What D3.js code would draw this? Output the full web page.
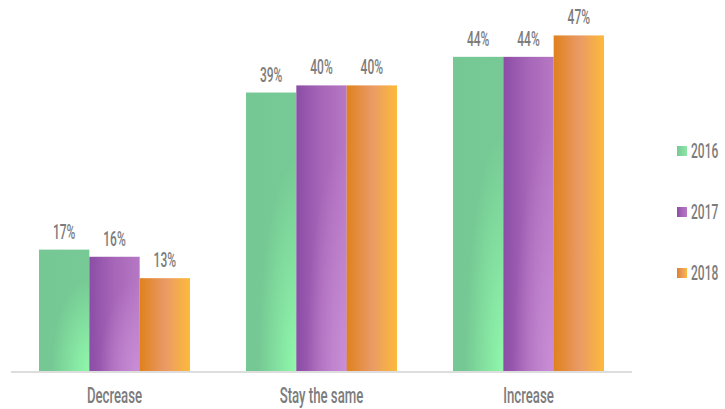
<!DOCTYPE html>
<html><head><meta charset="utf-8">
<script src="https://cdn.jsdelivr.net/npm/d3@7"></script>
<style>
body{margin:0;background:#fff;}
text{font-family:Roboto,"Liberation Sans",sans-serif;fill:#7c7c7c;font-weight:500;}
</style></head><body>
<svg id="c" width="725" height="409"></svg>
<script>
const categories = ["Decrease", "Stay the same", "Increase"];
const years = ["2016", "2017", "2018"];
const values2016 = [17, 39, 44];
const values2017 = [16, 40, 44];
const values2018 = [13, 40, 47];
const seriesValues = [values2016, values2017, values2018];

const SX = 0.6; // horizontal squeeze to mimic condensed face
const svg = d3.select("#c");
const defs = svg.append("defs");

function linGrad(id, stops){
  const g = defs.append("linearGradient").attr("id", id).attr("x1","0").attr("x2","1").attr("y1","0").attr("y2","0");
  stops.forEach(s=>g.append("stop").attr("offset",s[0]).attr("stop-color",s[1]));
}
function radGrad(id, r, stops){
  const g = defs.append("radialGradient").attr("id", id).attr("cx","1").attr("cy","1").attr("r",r).attr("fx","1").attr("fy","1");
  stops.forEach(s=>g.append("stop").attr("offset",s[0]).attr("stop-color",s[1]).attr("stop-opacity",s[2]));
}
linGrad("gGreen",[[0,"#75c893"],[1,"#77ca95"]]);
radGrad("rGreen",0.75,[[0,"#90f8ab",1],[1,"#90f8ab",0]]);
linGrad("gPurple",[[0,"#8b4da6"],[0.5,"#a766b8"],[1,"#b678c4"]]);
radGrad("rPurple",0.8,[[0,"#c98ed6",1],[1,"#c98ed6",0]]);
linGrad("gOrange",[[0,"#e0811c"],[0.5,"#e99a66"],[1,"#fcba3a"]]);
linGrad("lgGreen",[[0,"#76c994"],[1,"#8ee6a8"]]);
const fills = ["url(#gGreen)","url(#gPurple)","url(#gOrange)"];
const overlays = ["url(#rGreen)","url(#rPurple)",null];
const legFills = ["url(#lgGreen)","url(#gPurple)","url(#gOrange)"];

const baseY = 371;
const y = d3.scaleLinear().domain([0, 52]).range([baseY, baseY - 52*7.14]);
const x0 = d3.scaleBand().domain(categories).range([11, 632]).padding(0);
const x1 = d3.scaleBand().domain(years).range([28, 179]).padding(0);

function squeezedText(sel, x, yv, txt, size){
  const g = sel.append("g").attr("transform", `translate(${x},${yv}) scale(${SX},1)`);
  g.append("text").attr("text-anchor","middle").attr("font-size",size).text(txt);
  return g;
}

// axis line
svg.append("line").attr("x1",11).attr("x2",632).attr("y1",baseY+1).attr("y2",baseY+1)
  .attr("stroke","#dddddd").attr("stroke-width",2);

const groups = svg.selectAll("g.grp").data(categories).join("g")
  .attr("class","grp").attr("transform",c=>`translate(${x0(c)},0)`);

years.forEach((yr, si)=>{
  groups.append("rect")
    .attr("x", x1(yr)).attr("width", x1.bandwidth())
    .attr("y", (c,i)=>y(seriesValues[si][i])).attr("height",(c,i)=>baseY - y(seriesValues[si][i]))
    .attr("fill", fills[si]);
  if (overlays[si]) {
    groups.append("rect")
      .attr("x", x1(yr)).attr("width", x1.bandwidth())
      .attr("y", (c,i)=>y(seriesValues[si][i])).attr("height",(c,i)=>baseY - y(seriesValues[si][i]))
      .attr("fill", overlays[si]);
  }
  groups.each(function(c,i){
    squeezedText(d3.select(this), x1(yr) + x1.bandwidth()/2, y(seriesValues[si][i]) - 11,
      seriesValues[si][i] + "%", 20);
  });
});

// category labels via axis
const xAxis = d3.axisBottom(x0).tickSize(0).tickPadding(0);
const ax = svg.append("g").attr("transform",`translate(0,${baseY})`).call(xAxis);
ax.select(".domain").remove();
ax.selectAll("text").attr("font-size",22).attr("dy","0").attr("y",32)
  .attr("font-family",null).attr("fill",null)
  .attr("transform",`scale(${SX},1)`)
  .attr("x",0);
ax.selectAll(".tick text").style("fill","#7c7c7c");

// legend
const leg = svg.append("g");
years.forEach((yr, i)=>{
  const cy = 151 + i*61;
  leg.append("rect").attr("x",677).attr("y",cy-5).attr("width",10).attr("height",10).attr("fill",legFills[i]);
  const g = leg.append("g").attr("transform",`translate(691,${cy+7}) scale(${SX},1)`);
  g.append("text").attr("font-size",20).text(yr);
});
</script>
</body></html>
